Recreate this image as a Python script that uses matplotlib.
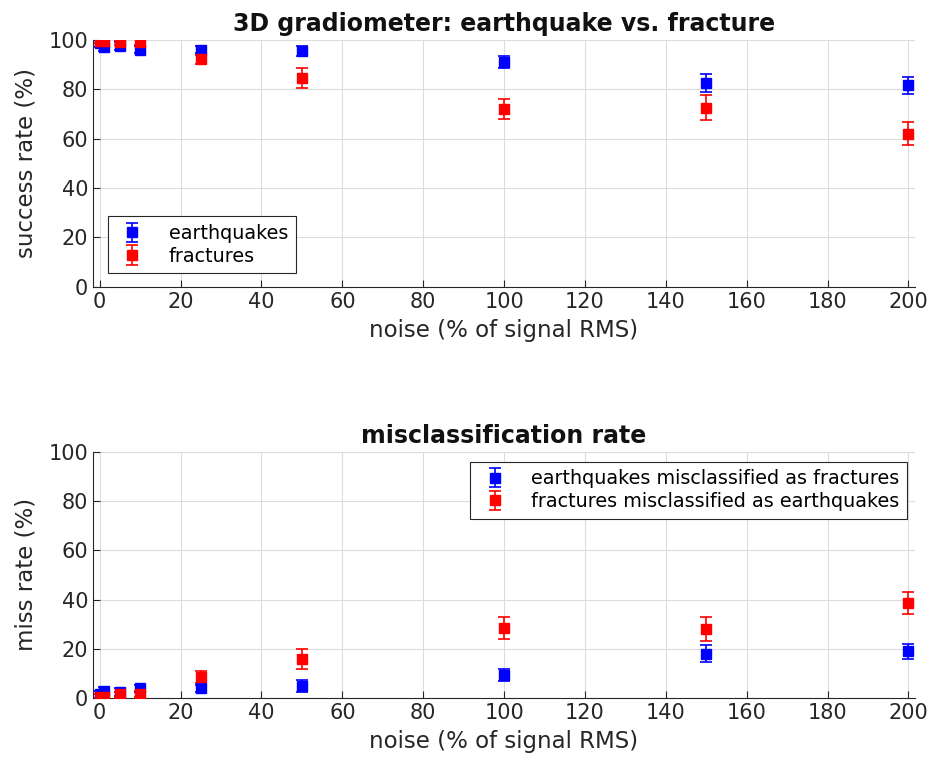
import matplotlib
matplotlib.use("Agg")
import matplotlib.pyplot as plt

# noise levels (% of signal RMS)
noise = [0, 1, 5, 10, 25, 50, 100, 150, 200]

# success rate (%)
eq_success = [98.5, 97, 97.5, 96, 96, 95.5, 91, 82.5, 81.5]
eq_success_err = [1.5, 1.5, 1.5, 1.5, 1.5, 2, 2.5, 3.5, 3.5]
fr_success = [99.5, 99.5, 99, 99, 92, 84.5, 72, 72.5, 62]
fr_success_err = [1, 1, 1, 1.2, 2, 4, 4, 5, 4.5]

# miss rate (%)
eq_miss = [1.5, 3, 2.5, 4, 4, 5, 9.5, 18, 19]
eq_miss_err = [1.5, 1.5, 1.5, 1.5, 1.5, 2.5, 2.5, 3.5, 3]
fr_miss = [0.5, 0.5, 1.5, 1.5, 8.5, 16, 28.5, 28, 38.5]
fr_miss_err = [1, 1, 1, 1.2, 2.5, 4, 4.5, 5, 4.5]

FS_TICK = 15
FS_LABEL = 16.5
FS_TITLE = 17
FS_LEG = 13.75
BLUE = "#0000ff"
RED = "#ff0000"
INK = "#262626"

plt.rcParams.update({"font.family": "DejaVu Sans", "font.size": FS_TICK})

fig = plt.figure(figsize=(9.38, 7.63), dpi=100)
ax1 = fig.add_axes([0.099, 0.624, 0.876, 0.324])
ax2 = fig.add_axes([0.099, 0.085, 0.876, 0.323])


def panel(ax, y1, e1, y2, e2, lab1, lab2, ylabel, title, legend_loc, anchor):
    kw = dict(fmt="s", markersize=6.5, capsize=4.5, elinewidth=1.2,
              capthick=1.2)
    ax.errorbar(noise, y1, yerr=e1, color=BLUE, label=lab1, zorder=3, **kw)
    ax.errorbar(noise, y2, yerr=e2, color=RED, label=lab2, zorder=3, **kw)
    ax.set_xlim(-1.7, 201.5)
    ax.set_ylim(0, 100)
    ax.set_xticks(range(0, 201, 20))
    ax.set_yticks(range(0, 101, 20))
    ax.grid(True, color="#dcdcdc", linewidth=0.8)
    ax.set_axisbelow(True)
    for s in ("top", "right"):
        ax.spines[s].set_visible(False)
    for s in ("left", "bottom"):
        ax.spines[s].set_color(INK)
    ax.tick_params(direction="in", length=5, colors=INK, labelsize=FS_TICK)
    ax.set_xlabel("noise (% of signal RMS)", fontsize=FS_LABEL, color=INK,
                  labelpad=5)
    ax.set_ylabel(ylabel, fontsize=FS_LABEL, color=INK, labelpad=8)
    ax.set_title(title, fontsize=FS_TITLE, fontweight="bold", color="#111111",
                 pad=6)
    leg = ax.legend(loc=legend_loc, bbox_to_anchor=anchor, borderaxespad=0,
                    fancybox=False, edgecolor=INK, framealpha=1,
                    fontsize=FS_LEG, handletextpad=1.0, borderpad=0.4,
                    labelspacing=0.2, handlelength=1.8)
    leg.get_frame().set_linewidth(0.8)
    return leg


panel(ax1, eq_success, eq_success_err, fr_success, fr_success_err,
      "earthquakes", "fractures", "success rate (%)",
      "3D gradiometer: earthquake vs. fracture", "lower left", (0.018, 0.055))
panel(ax2, eq_miss, eq_miss_err, fr_miss, fr_miss_err,
      "earthquakes misclassified as fractures",
      "fractures misclassified as earthquakes", "miss rate (%)",
      "misclassification rate", "upper right", (0.991, 0.96))

fig.savefig("out.png", dpi=100)
